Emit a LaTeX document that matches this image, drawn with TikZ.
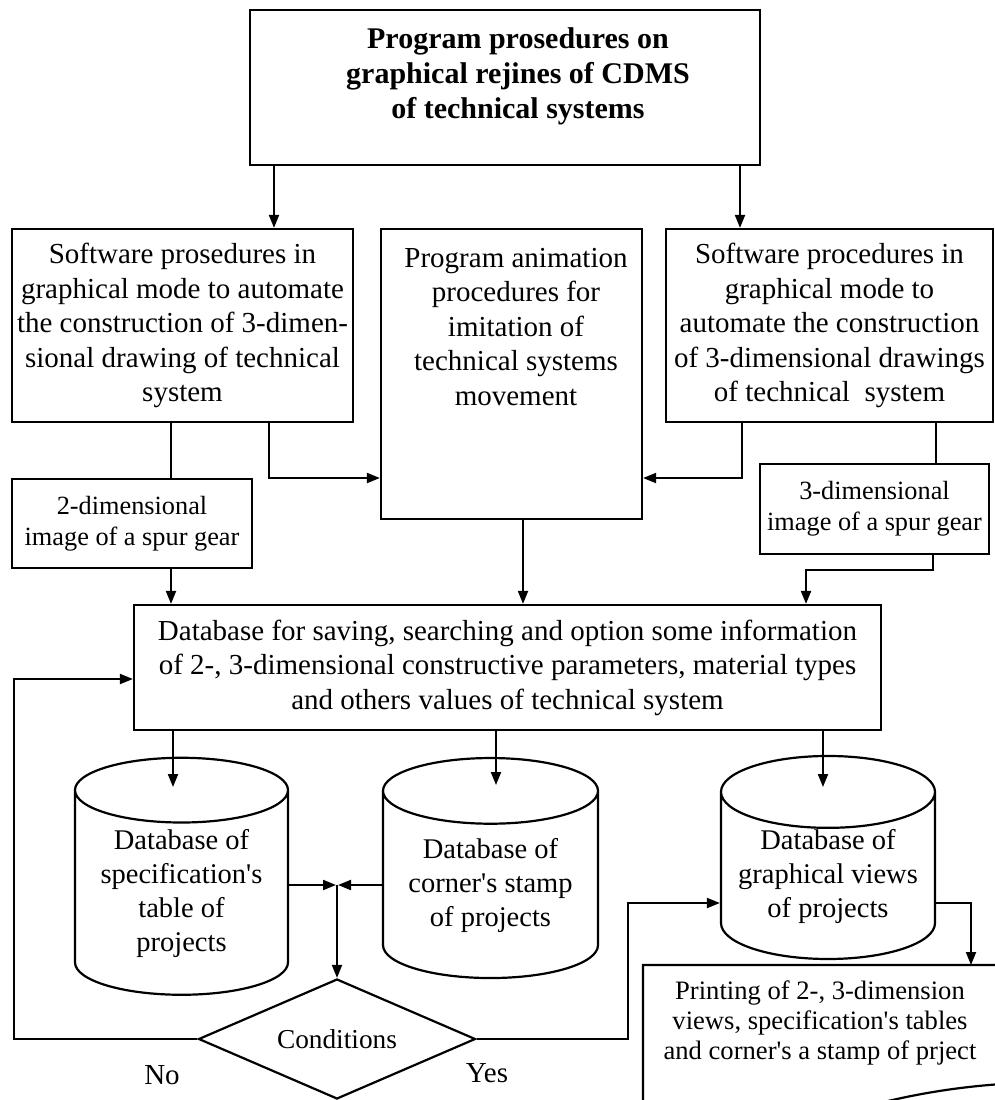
\documentclass[tikz,border=0pt]{standalone}
\usepackage{fontspec}
\setmainfont{Liberation Serif}
\usetikzlibrary{arrows.meta,shapes.geometric}

\newcommand{\bodyfont}{\fontsize{29pt}{34.5pt}\selectfont}
\newcommand{\smallfont}{\fontsize{26.3pt}{31pt}\selectfont}
\newcommand{\printfont}{\fontsize{26.6pt}{30pt}\selectfont}
\newcommand{\cylfont}{\fontsize{28.5pt}{34pt}\selectfont}
\newcommand{\titlefont}{\fontsize{30pt}{35pt}\selectfont\bfseries}
\newcommand{\apos}{\textquotesingle}

\begin{document}
\begin{tikzpicture}[
  x=1pt,y=-1pt,
  >={Triangle[length=13pt,width=10pt]},
  box/.style={draw,line width=2.2pt,inner sep=0pt,align=center,font=\bodyfont},
  store/.style={draw,line width=2.2pt,cylinder,shape border rotate=90,aspect=0.4,
    inner sep=0pt,align=center,font=\cylfont},
  choice/.style={draw,line width=2.2pt,diamond,aspect=2.3,inner sep=0pt,
    font=\fontsize{27.3pt}{32pt}\selectfont},
  wire/.style={line width=2pt},
  flow/.style={wire,->},
  note/.style={align=center,font=\bodyfont}
]
  \useasboundingbox (0,0) rectangle (995,1100);
  \clip (0,0) rectangle (995,1100);

  % upper level
  \node[box,minimum width=510pt,minimum height=155pt] (main) at (505,87.5) {};
  \node[note,font=\titlefont] (mainTxt) at (518,76)
    {Program prosedures on\\graphical rejines of CDMS\\of technical systems};

  \node[box,minimum width=341pt,minimum height=193pt] (soft2) at (182.5,325.5)
    {Software prosedures in\\graphical mode to automate\\the construction of 3-dimen-\\sional drawing of technical\\system};
  \node[box,minimum width=261pt,minimum height=290pt] (anim) at (511.5,374) {};
  \node[note] (animTxt) at (516,327)
    {Program animation\\procedures for\\imitation of\\technical systems\\movement};
  \node[box,minimum width=327pt,minimum height=193pt] (soft3) at (829.5,325.5)
    {Software procedures in\\graphical mode to\\automate the construction\\of 3-dimensional drawings\\of technical\ \ system};

  \node[box,font=\smallfont,minimum width=240pt,minimum height=89pt] (img2) at (132,523.5)
    {2-dimensional\\image of a spur gear};
  \node[box,font=\smallfont,minimum width=229pt,minimum height=90pt] (img3) at (874.5,509)
    {3-dimensional\\image of a spur gear};

  % database level
  \node[box,minimum width=747pt,minimum height=125pt] (base) at (507.5,667.5)
    {Database for saving, searching and option some information\\of 2-, 3-dimensional constructive parameters, material types\\and others values of technical system};

  \node[store,minimum width=213pt,minimum height=237pt] (spec) at (181.5,893)
    {Database of\\specification\apos s\\table of\\projects};
  \node[store,minimum width=215pt,minimum height=220pt] (stamp) at (490.5,885)
    {Database of\\corner\apos s stamp\\of projects};
  \node[store,minimum width=214pt,minimum height=195pt] (views) at (828,876)
    {Database of\\graphical views\\of projects};

  \node[choice,minimum width=277pt,minimum height=120pt] (cond) at (337,1039) {Conditions};
  \node[note] (no) at (162,1075) {No};
  \node[note] (yes) at (487,1073) {Yes};

  % printing (wavy bottom)
  \node[minimum width=420pt,minimum height=150pt,anchor=north west] (print) at (643,965) {};
  \draw[line width=2.2pt] (print.south west) -- (print.north west) -- (print.north east) -- (1063,1082)
    .. controls (980,1082) and (920,1092) .. (860,1108)
    .. controls (780,1130) and (700,1130) .. (print.south west);
  \node[note,font=\printfont] (printTxt) at (820,1023)
    {Printing of 2-, 3-dimension\\views, specification\apos s tables\\and corner\apos s a stamp of prject};

  % connectors
  \coordinate (mL) at (274,0);
  \coordinate (mR) at (740,0);
  \draw[flow] (main.south -| mL) -- (soft2.north -| mL);
  \draw[flow] (main.south -| mR) -- (soft3.north -| mR);

  \coordinate (a2) at (171,0);
  \coordinate (a3) at (269,478);
  \coordinate (a4) at (523,0);
  \draw[wire] (soft2.south -| a2) -- (img2.north -| a2);
  \draw[flow] (img2.south -| a2) -- (base.north -| a2);
  \draw[flow] (soft2.south -| a3) -- (a3) -- (anim.west |- a3);
  \draw[flow] (anim.south -| a4) -- (base.north -| a4);

  \coordinate (b3) at (742,478);
  \coordinate (b4) at (936,0);
  \coordinate (b5) at (933,570);
  \coordinate (b6) at (806,570);
  \draw[flow] (soft3.south -| b3) -- (b3) -- (anim.east |- b3);
  \draw[wire] (soft3.south -| b4) -- (img3.north -| b4);
  \draw[flow] (img3.south -| b5) -- (b5) -- (b6) -- (base.north -| b6);

  \coordinate (c1) at (173,787);
  \coordinate (c2) at (496,785);
  \coordinate (c3) at (823,787);
  \draw[flow] (base.south -| c1) -- (c1);
  \draw[flow] (base.south -| c2) -- (c2);
  \draw[flow] (base.south -| c3) -- (c3);

  \coordinate (jn) at (337,885);
  \draw[flow] (spec.east |- jn) -- ([xshift=-1pt]jn);
  \draw[flow] (stamp.west |- jn) -- ([xshift=1pt]jn);
  \draw[flow] (jn) -- (cond.north);

  \coordinate (fb) at (14,679);
  \draw[flow] (cond.west) -| (fb) -- (base.west |- fb);
  \coordinate (ok) at (628,903);
  \draw[flow] (cond.east) -| (ok) -- (views.west |- ok);
  \coordinate (pk) at (971,903);
  \draw[flow] (views.east |- pk) -- (pk) -- (print.north -| pk);
\end{tikzpicture}
\end{document}
